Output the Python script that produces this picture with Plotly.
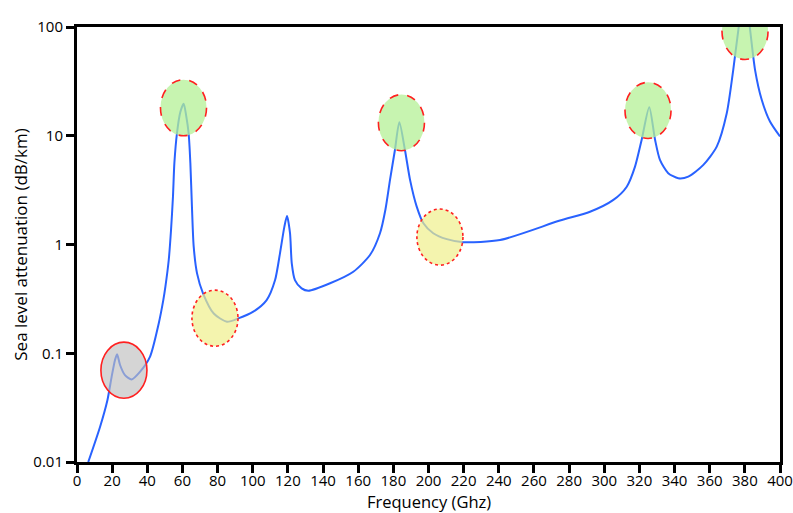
import plotly.graph_objects as go

# Sea-level atmospheric attenuation vs frequency (read values along the curve)
freq_ghz = [6.4, 13.1, 17.3, 19.7, 21.6, 22.8, 24.5, 27.3, 31.1, 35.8, 41.5, 46.5,
            49.1, 50.3, 52.2, 53.5, 54.6, 55.4, 56.9, 58.8, 60.7, 62.2, 63.5, 64.5,
            65.4, 66.4, 68.3, 71.7, 77.8, 85.3, 91.8, 100.3, 107.9, 112.7, 115.5,
            118.0, 119.5, 121.2, 122.2, 124.0, 127.8, 131.6, 144.0, 157.2, 166.7,
            172.4, 175.5, 178.1, 180.9, 183.4, 186.6, 189.5, 193.3, 197.1,
            202.7, 210.4, 219.8, 240.7, 274.8, 291.9, 305.2, 312.8, 317.5, 321.3,
            325.6, 328.9, 331.7, 336.4, 342.1, 347.8, 356.4, 364.0, 369.7, 373.4,
            376.3, 380.0, 383.0, 385.8, 389.6, 394.3, 400.0]
atten_db_km = [0.0100, 0.021, 0.037, 0.0607, 0.0863, 0.098, 0.078, 0.0629, 0.0575,
               0.0674, 0.0927, 0.188, 0.308, 0.41, 0.72, 1.36, 2.75, 5.6, 10.6,
               16.5, 19.7, 15.0, 10.6, 5.6, 2.23, 0.955, 0.543, 0.356, 0.232, 0.195,
               0.209, 0.241, 0.308, 0.471, 0.83, 1.46, 1.83, 1.27, 0.671, 0.471,
               0.395, 0.376, 0.44, 0.562, 0.80, 1.27, 2.1, 3.93, 7.4, 13.3,
               7.4, 3.93, 2.23, 1.57, 1.27, 1.12, 1.05, 1.10, 1.66, 2.0, 2.57, 3.4,
               5.2, 9.2, 18.3, 9.2, 6.0, 4.53, 4.07, 4.21, 5.4, 7.95, 16.1, 40.4,
               94.0, 230.0, 94.0, 40.4, 21.4, 13.5, 9.84]

x_ticks = list(range(0, 401, 20))
y_ticks = [0.01, 0.1, 1, 10, 100]
y_tick_text = ["0.01", "0.1", "1", "10", "100"]

# Highlight ellipses: centre (GHz, dB/km), fill colour, outline dash
highlights = [
    (26.7, 0.0698, "rgba(190,190,190,0.65)", "solid"),
    (60.6, 18.1, "rgba(180,240,150,0.75)", "dash"),
    (78.5, 0.21, "rgba(240,240,140,0.7)", "dot"),
    (184.6, 13.2, "rgba(180,240,150,0.75)", "dash"),
    (206.5, 1.17, "rgba(240,240,140,0.7)", "dot"),
    (324.9, 17.1, "rgba(180,240,150,0.75)", "dash"),
    (380.1, 91.0, "rgba(180,240,150,0.75)", "dash"),
]
half_width_ghz = 13.1      # horizontal semi-axis in GHz
half_height_dec = 0.258    # vertical semi-axis in decades

fig = go.Figure()
fig.add_trace(go.Scatter(
    x=freq_ghz, y=atten_db_km, mode="lines",
    line=dict(color="#2962ff", width=2, shape="spline", smoothing=0.7),
    hoverinfo="x+y", showlegend=False,
))

for fx, fy, fill, dash in highlights:
    fig.add_shape(
        type="circle", xref="x", yref="y",
        x0=fx - half_width_ghz, x1=fx + half_width_ghz,
        y0=fy / 10 ** half_height_dec, y1=fy * 10 ** half_height_dec,
        fillcolor=fill, layer="above",
        line=dict(color="#ff2020", width=1.6, dash=dash),
    )

# x-axis title placed just under the tick labels
fig.add_annotation(
    text="Frequency (Ghz)", xref="paper", yref="paper", x=0.5, y=0,
    xanchor="center", yanchor="middle", yshift=-39.5, showarrow=False,
    font=dict(size=16.5),
)

font_family = "Open Sans, Noto Sans, sans-serif"
fig.update_layout(
    width=793, height=513,
    margin=dict(l=77, r=13, t=27, b=51),
    paper_bgcolor="white", plot_bgcolor="white",
    font=dict(family=font_family, size=15, color="black"),
    xaxis=dict(
        range=[0, 400], tickvals=x_ticks, ticks="outside", ticklen=8, tickwidth=3,
        tickcolor="black", showline=True, linewidth=3, linecolor="black",
        mirror=True, showgrid=False, zeroline=False, automargin=False,
        ticklabelstandoff=-5,
        tickfont=dict(size=15),
    ),
    yaxis=dict(
        type="log", range=[-2, 2], tickvals=y_ticks, ticktext=y_tick_text,
        ticks="outside", ticklen=8, tickwidth=3, tickcolor="black",
        showline=True, linewidth=3, linecolor="black", mirror=True,
        showgrid=False, zeroline=False, automargin=False,
        title=dict(text="Sea level attenuation (dB/km)", standoff=2, font=dict(size=17)),
        tickfont=dict(size=15),
    ),
)

fig.write_html("out.html")
